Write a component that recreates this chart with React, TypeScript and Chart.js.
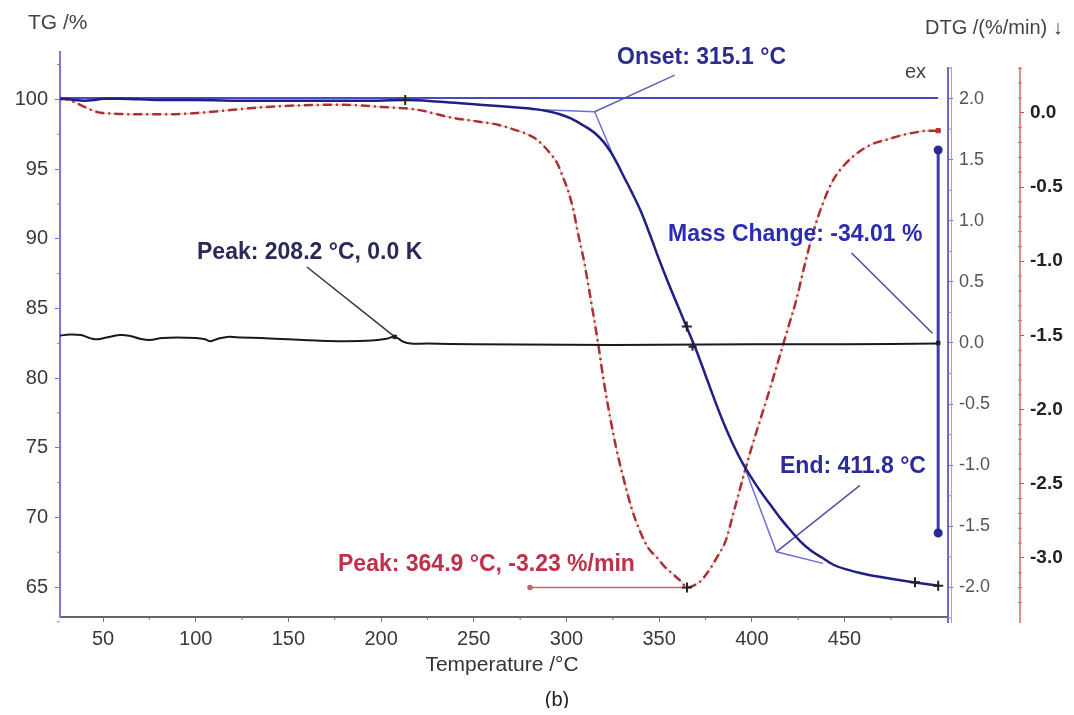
import React, { useEffect, useRef } from "react";
import { Chart, registerables } from "chart.js";
Chart.register(...registerables);

const FONT = "'Liberation Sans', Arial, Helvetica, sans-serif";

// ---------- data ----------
const tempTG = [26.8, 30, 35, 40, 45, 50, 60, 80, 100, 130, 160, 190, 213, 230, 245, 255, 265, 275, 283, 290, 296, 302, 307, 312, 316, 320, 324, 327, 330, 335, 340, 345, 350, 355, 360, 365, 370, 375, 380, 385, 390, 395, 400, 405, 410, 415, 420, 426, 432, 438, 444, 450, 462, 475, 487, 495, 501];
const massTG = [100.0, 100.05, 99.95, 99.9, 99.95, 100.05, 100.05, 99.95, 99.95, 99.9, 99.9, 99.9, 99.95, 99.85, 99.7, 99.6, 99.5, 99.4, 99.3, 99.15, 98.95, 98.65, 98.3, 97.9, 97.5, 96.95, 96.2, 95.5, 94.7, 93.4, 92.0, 90.3, 88.5, 86.8, 85.2, 83.6, 82.0, 80.2, 78.4, 76.7, 75.2, 73.9, 72.8, 71.8, 70.9, 70.0, 69.2, 68.3, 67.6, 67.1, 66.6, 66.3, 65.9, 65.6, 65.35, 65.2, 65.1];

const tempDTG = [26.8, 33, 40, 47, 55, 70, 85, 102, 120, 138, 156, 178, 200, 220, 237, 253, 263, 271, 278, 284, 291, 295, 298, 301, 304, 306, 309, 313, 317, 320, 323.5, 327, 330.5, 335, 340, 344, 349, 353, 357.5, 362, 365, 368, 372, 376, 381, 386, 390, 395, 400, 405, 410, 415, 420, 424, 428, 433, 438, 444, 450, 457, 465, 473, 481, 489, 495, 500.5];
const rateDTG = [0.1, 0.08, 0.04, 0.005, -0.005, -0.01, -0.01, 0.0, 0.02, 0.04, 0.05, 0.055, 0.04, 0.02, -0.03, -0.06, -0.08, -0.11, -0.14, -0.18, -0.27, -0.34, -0.43, -0.53, -0.67, -0.8, -0.97, -1.25, -1.55, -1.8, -2.05, -2.27, -2.45, -2.66, -2.83, -2.93, -3.0, -3.06, -3.11, -3.16, -3.2, -3.19, -3.16, -3.1, -3.0, -2.88, -2.7, -2.47, -2.25, -2.05, -1.85, -1.64, -1.43, -1.26, -1.05, -0.81, -0.62, -0.45, -0.35, -0.27, -0.21, -0.18, -0.15, -0.13, -0.12, -0.12];

const tempDTA = [26.8, 32, 38, 43, 47, 52, 59, 64, 70, 75, 82, 90, 100, 105, 108, 112, 117, 125, 135, 150, 165, 180, 195, 203, 207.4, 212, 216, 225, 250, 300, 350, 400, 450, 500.5];
const signalDTA = [0.06, 0.07, 0.065, 0.04, 0.03, 0.045, 0.065, 0.06, 0.035, 0.025, 0.04, 0.045, 0.04, 0.03, 0.015, 0.035, 0.05, 0.045, 0.04, 0.03, 0.02, 0.015, 0.02, 0.035, 0.05, 0.01, -0.005, -0.005, -0.01, -0.015, -0.015, -0.01, -0.01, -0.005];

// annotation geometry (data units)
const baselineT = [26.8, 500.5];
const baselineTG = [100.1, 100.1];
const onsetT = [280, 315.2, 327];
const onsetTG = [99.3, 99.11, 95.4];
const onsetLeaderT = [315.2, 358.4];
const onsetLeaderTG = [99.11, 101.74];
const endT = [395.2, 413.2, 438.4];
const endTG = [73.9, 67.53, 66.7];
const endLeaderT = [413.2, 458.3];
const endLeaderTG = [67.53, 72.3];
const massBarT = [500.5, 500.5];
const massBarTG = [96.37, 68.88];
const massLeaderT = [453.8, 497.4];
const massLeaderTG = [88.97, 83.22];
const dtaPeakLeaderT = [160, 207.4];
const dtaPeakLeaderV = [0.622, 0.05];
const dtgPeakLeaderT = [280.3, 365];
const dtgPeakLeaderV = [-3.2, -3.2];
const tgMarksT = [213, 364.9, 488, 500.5];
const tgMarksV = [99.95, 83.7, 65.35, 65.1];
const dtaMarksT = [368];
const dtaMarksV = [-0.03];

// ticks
const xTicks = [50, 100, 150, 200, 250, 300, 350, 400, 450];
const tgTicks = [65, 70, 75, 80, 85, 90, 95, 100];
const dtaTicks = [-2, -1.5, -1, -0.5, 0, 0.5, 1, 1.5, 2];
const dtgTicks = [-3, -2.5, -2, -1.5, -1, -0.5, 0];

const xMin = 26.8, xMax = 505.8;
const tgMin = 62.85, tgMax = 103.4;
const dtaMin = -2.242, dtaMax = 2.381;
const dtgMin = -3.398, dtgMax = 0.41;

const pts = (xs: number[], ys: number[]) => xs.map((x, i) => ({ x, y: ys[i] }));

function minorList(a: number, b: number, step: number, majorStep: number) {
  const out: number[] = [];
  for (let v = a; v <= b + 1e-9; v += step) {
    const r = Math.round(v * 1000) / 1000;
    const m = r / majorStep;
    if (Math.abs(m - Math.round(m)) > 1e-6) out.push(r);
  }
  return out;
}

const annotPlugin = {
  id: "annot",
  afterDraw(chart: any) {
    const ctx = chart.ctx as CanvasRenderingContext2D;
    const sx = chart.scales.x, sTG = chart.scales.yTG, sDTA = chart.scales.yDTA, sDTG = chart.scales.yDTG;
    const area = chart.chartArea;
    ctx.save();
    const ln = (x1: number, y1: number, x2: number, y2: number) => {
      ctx.beginPath(); ctx.moveTo(x1, y1); ctx.lineTo(x2, y2); ctx.stroke();
    };
    const axTop = area.top + 15, axBot = area.bottom + 6;
    // right axis lines (shorter than chart area, as in the reference)
    ctx.strokeStyle = "#6a6ac8"; ctx.lineWidth = 2;
    ln(sDTA.left, axTop, sDTA.left, axBot);
    ctx.strokeStyle = "#a0a0dc"; ctx.lineWidth = 1;
    ln(sDTA.left + 3.5, axTop, sDTA.left + 3.5, axBot);
    ctx.strokeStyle = "#d06868"; ctx.lineWidth = 1.5;
    ln(sDTG.left, axTop, sDTG.left, axBot);
    ctx.lineWidth = 1;
    // minor ticks
    ctx.strokeStyle = "#777";
    for (const v of minorList(75, 475, 25, 50)) { const p = sx.getPixelForValue(v); ln(p, sx.top, p, sx.top + 3); }
    ctx.strokeStyle = "#8080d8";
    for (const v of minorList(62.5, 102.5, 2.5, 5)) { const p = sTG.getPixelForValue(v); ln(sTG.right - 3, p, sTG.right, p); }
    ctx.strokeStyle = "#8a8ad0";
    for (const v of minorList(-2.25, 2.25, 0.25, 0.5)) { const p = sDTA.getPixelForValue(v); ln(sDTA.left, p, sDTA.left + 3, p); }
    ctx.strokeStyle = "#d07070";
    for (const v of minorList(-3.3, 0.3, 0.1, 0.5)) { const p = sDTG.getPixelForValue(v); ln(sDTG.left - 2, p, sDTG.left + 2, p); }

    // texts
    const txt = (s: string, x: number, y: number, font: string, color: string, align: CanvasTextAlign = "left") => {
      ctx.font = font; ctx.fillStyle = color; ctx.textAlign = align; ctx.textBaseline = "middle";
      ctx.fillText(s, x, y);
    };
    txt("TG /%", 20, 15, `21px ${FONT}`, "#444");
    txt("DTG /(%/min) \u2193", 917, 20, `20px ${FONT}`, "#444");
    txt("ex", 897, 64, `20px ${FONT}`, "#444");
    txt("Temperature /\u00B0C", 494, 657, `21px ${FONT}`, "#333", "center");
    txt("(b)", 549, 692, `20px ${FONT}`, "#222", "center");
    txt("Onset: 315.1 \u00B0C", 609, 50, `bold 23px ${FONT}`, "#2b2b8f");
    txt("Peak: 208.2 \u00B0C, 0.0 K", 189, 245, `bold 23px ${FONT}`, "#2a2a5a");
    txt("Mass Change: -34.01 %", 660, 227, `bold 23px ${FONT}`, "#2c2cb0");
    txt("End: 411.8 \u00B0C", 772, 459, `bold 23px ${FONT}`, "#2a2a9a");
    txt("Peak: 364.9 \u00B0C, -3.23 %/min", 330, 557, `bold 23px ${FONT}`, "#c0304a");
    ctx.restore();
  },
};

function lineDs(data: any[], axis: string, color: string, width: number, extra: any = {}) {
  return {
    data, yAxisID: axis, borderColor: color, backgroundColor: color, borderWidth: width,
    showLine: true, pointRadius: 0, fill: false, ...extra,
  };
}

export default function App() {
  const ref = useRef<HTMLCanvasElement>(null);
  useEffect(() => {
    if (!ref.current) return;
    const datasets: any[] = [
      { data: pts(tgMarksT, tgMarksV), yAxisID: "yTG", showLine: false, pointStyle: "cross", pointRadius: 5, borderColor: "#222", borderWidth: 2 },
      { data: pts(dtaMarksT, dtaMarksV), yAxisID: "yDTA", showLine: false, pointStyle: "cross", pointRadius: 4, borderColor: "#222", borderWidth: 2 },
      { data: [{ x: 365, y: -3.2 }], yAxisID: "yDTG", showLine: false, pointStyle: "cross", pointRadius: 5, borderColor: "#222", borderWidth: 2 },
      { data: [{ x: 500.5, y: -0.12 }], yAxisID: "yDTG", showLine: false, pointStyle: "rect", pointRadius: 3, borderColor: "#c03030", backgroundColor: "#c03030", borderWidth: 1 },
      { data: [{ x: 207.4, y: 0.05 }, { x: 500.5, y: 0 }], yAxisID: "yDTA", showLine: false, pointStyle: "rect", pointRadius: 2.5, borderColor: "#222", backgroundColor: "#222", borderWidth: 1 },
      lineDs(pts(massBarT, massBarTG), "yTG", "#3a3ab8", 3, { pointRadius: 3, pointStyle: "circle", pointBorderColor: "#2a2a90", pointBackgroundColor: "#2a2a90" }),
      lineDs(pts(tempTG, massTG), "yTG", "#1f1f85", 2.5, { cubicInterpolationMode: "monotone" }),
      lineDs(pts(tempDTA, signalDTA), "yDTA", "#1a1a1a", 2, { tension: 0.4 }),
      lineDs(pts(tempDTG, rateDTG), "yDTG", "#a83232", 2.5, { cubicInterpolationMode: "monotone", borderDash: [9, 4, 2, 4] }),
      lineDs(pts(tempDTG, rateDTG), "yDTG", "rgba(232,150,150,0.8)", 1, { cubicInterpolationMode: "monotone" }),
      lineDs(pts(baselineT, baselineTG), "yTG", "#4a4ac8", 2),
      lineDs(pts(onsetT, onsetTG), "yTG", "#7070d0", 1.5),
      lineDs(pts(onsetLeaderT, onsetLeaderTG), "yTG", "#6060b8", 1.5),
      lineDs(pts(endT, endTG), "yTG", "#7070d0", 1.5),
      lineDs(pts(endLeaderT, endLeaderTG), "yTG", "#5050a8", 1.5),
      lineDs(pts(massLeaderT, massLeaderTG), "yTG", "#4a4aa0", 1.5),
      lineDs(pts(dtaPeakLeaderT, dtaPeakLeaderV), "yDTA", "#333344", 1.5),
      lineDs(pts(dtgPeakLeaderT, dtgPeakLeaderV), "yDTG", "#c86070", 1.5, { pointRadius: [2, 0], pointBackgroundColor: "#c86070" }),
    ];
    const tickFont = (size: number, weight: any = "normal") => ({ family: FONT, size, weight });
    const chart = new Chart(ref.current, {
      type: "scatter",
      data: { datasets },
      plugins: [annotPlugin],
      options: {
        animation: false,
        responsive: false,
        events: [],
        layout: { padding: { top: 44, left: 0, right: 0, bottom: 0 } },
        plugins: { legend: { display: false }, tooltip: { enabled: false } },
        scales: {
          x: {
            type: "linear", position: "bottom", min: xMin, max: xMax,
            afterBuildTicks: (s: any) => { s.ticks = xTicks.map((v) => ({ value: v })); },
            afterFit: (s: any) => { s.height = 91; },
            ticks: { color: "#3a3a3a", font: tickFont(20), padding: 5, maxRotation: 0, callback: (v: any) => String(v) },
            grid: { drawOnChartArea: false, drawTicks: true, tickLength: 5, tickColor: "#777" },
            border: { display: true, color: "#666", width: 2 },
          },
          yTG: {
            type: "linear", position: "left", min: tgMin, max: tgMax,
            afterBuildTicks: (s: any) => { s.ticks = tgTicks.map((v) => ({ value: v })); },
            afterFit: (s: any) => { s.width = 52; },
            ticks: { color: "#3a3a3a", font: tickFont(20), padding: 7, callback: (v: any) => String(v) },
            grid: { drawOnChartArea: false, drawTicks: true, tickLength: 5, tickColor: "#7070d0" },
            border: { display: true, color: "#7878e0", width: 2 },
          },
          yDTA: {
            type: "linear", position: "right", weight: 0, min: dtaMin, max: dtaMax,
            afterBuildTicks: (s: any) => { s.ticks = dtaTicks.map((v) => ({ value: v })); },
            afterFit: (s: any) => { s.width = 72; },
            ticks: { color: "#555", font: tickFont(18), padding: 6, callback: (v: any) => Number(v).toFixed(1) },
            grid: { drawOnChartArea: false, drawTicks: true, tickLength: 5, tickColor: "#7070b0" },
            border: { display: false },
          },
          yDTG: {
            type: "linear", position: "right", weight: 1, min: dtgMin, max: dtgMax,
            afterBuildTicks: (s: any) => { s.ticks = dtgTicks.map((v) => ({ value: v })); },
            afterFit: (s: any) => { s.width = 46; },
            ticks: { color: "#222", font: tickFont(19, "bold"), padding: 6, callback: (v: any) => Number(v).toFixed(1) },
            grid: { drawOnChartArea: false, drawTicks: true, tickLength: 4, tickColor: "#c05050" },
            border: { display: false },
          },
        },
      } as any,
    });
    return () => chart.destroy();
  }, []);
  return (
    <div style={{ width: 1058, height: 700 }}>
      <canvas ref={ref} width={1058} height={700} style={{ display: "block" }} />
    </div>
  );
}
